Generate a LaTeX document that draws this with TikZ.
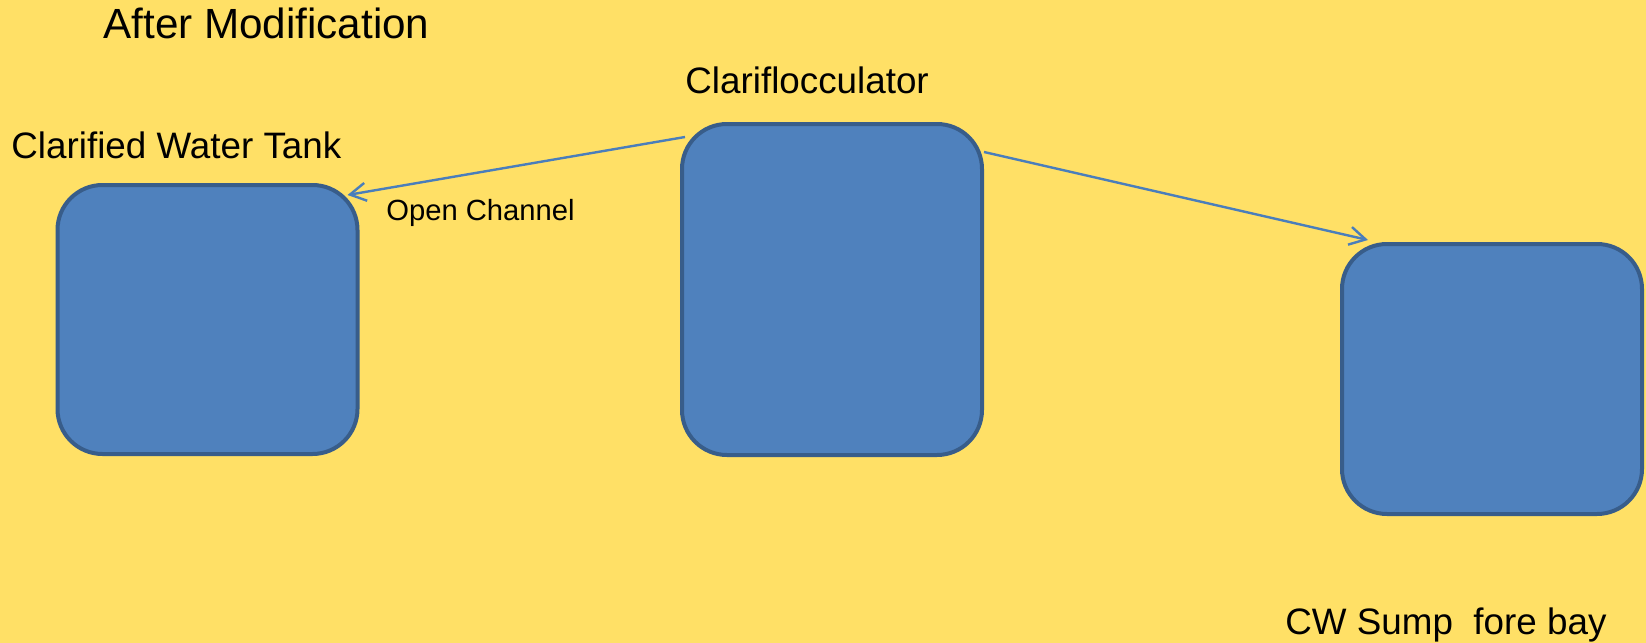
\documentclass[tikz,border=0pt]{standalone}
\usepackage{xcolor}
\usepackage{fontspec}
\setmainfont{Liberation Sans}
\usepackage{tikz}
\usetikzlibrary{arrows.meta}

\definecolor{slidebg}{HTML}{FFE066}
\definecolor{boxfill}{HTML}{4F81BD}
\definecolor{boxline}{HTML}{385D8A}
\definecolor{flowline}{HTML}{4A7EBB}

\begin{document}
\begin{tikzpicture}[
    x=0.5pt, y=-0.5pt,
    unit/.style={rectangle, draw=boxline, fill=boxfill, line width=2pt, rounded corners=22.5pt, minimum width=150pt, inner sep=0pt},
    label/.style={anchor=base west, inner sep=0pt, font=\fontsize{18.4}{22}\selectfont},
    arrow/.style={-{Straight Barb[length=8pt, width=9pt]}, draw=flowline, line width=1.2pt}
]
    % page
    \fill[slidebg] (0,0) rectangle (1646,643);
    \useasboundingbox (0,0) rectangle (1646,643);

    \node[anchor=base west, inner sep=0pt, font=\fontsize{21.1}{25}\selectfont] (title) at (103,38) {After Modification};

    \node[unit, minimum height=134.5pt] (tank) at (207.5,319.5) {};
    \node[unit, minimum height=165.5pt] (clari) at (832,289.5) {};
    \node[unit, minimum height=135pt] (sump) at (1492,379) {};

    \node[label] (tanklabel) at (11,158) {Clarified Water Tank};
    \node[label] (clarilabel) at (685,93) {Clariflocculator};
    \node[label] (sumplabel) at (1285,634) {CW Sump\ \ fore bay};
    \node[anchor=base west, inner sep=0pt, font=\fontsize{14.6}{18}\selectfont] (channel) at (386,220) {Open Channel};

    \draw[arrow] ([shift={(5,15)}]clari.north west) -- ([shift={(-12,12)}]tank.north east);
    \draw[arrow] ([shift={(0,30)}]clari.north east) -- ([shift={(28,-2)}]sump.north west);
\end{tikzpicture}
\end{document}
